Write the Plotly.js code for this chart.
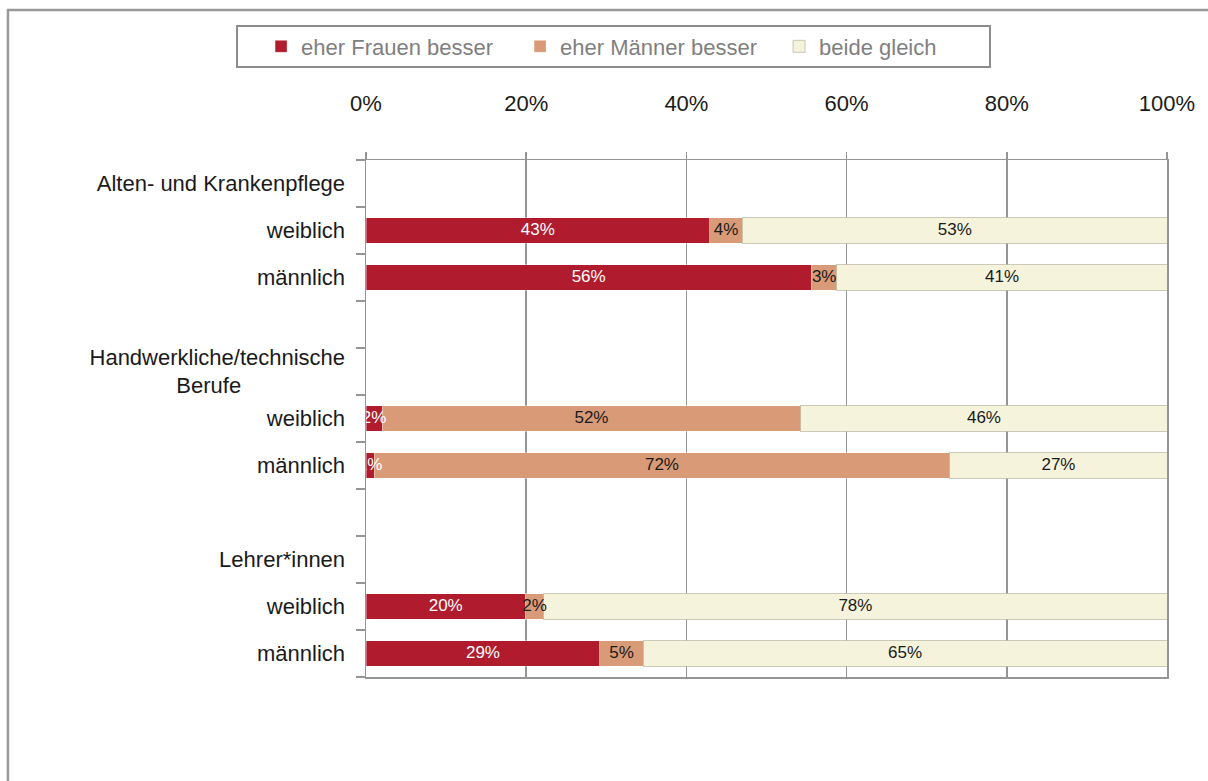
<!DOCTYPE html>
<html>
<head>
<meta charset="utf-8">
<script src="https://cdn.plot.ly/plotly-3.0.1.min.js"></script>
<style>
  html, body { margin: 0; padding: 0; background: #fff; }
  #chart { width: 1208px; height: 781px; }
</style>
</head>
<body>
<div id="chart"></div>
<script>
// rows of the chart, top to bottom (headers and spacer rows carry no bars)
var rowKeys = ['alten', 'alten_w', 'alten_m', 'gap1', 'hand', 'hand_w', 'hand_m', 'gap2', 'lehr', 'lehr_w', 'lehr_m'];
var rowLabels = [
  'Alten- und Krankenpflege', 'weiblich', 'männlich', '',
  'Handwerkliche/technische<br>Berufe' + '\u00a0'.repeat(17), 'weiblich', 'männlich', '',
  'Lehrer*innen', 'weiblich', 'männlich'
];

// rows that have bars
var barRows = ['alten_w', 'alten_m', 'hand_w', 'hand_m', 'lehr_w', 'lehr_m'];

// shares in percent
var frauenBesser = [42.9, 55.6, 2.0, 1.0, 19.9, 29.2];
var maennerBesser = [4.1, 3.2, 52.3, 71.9, 2.3, 5.4];
var beideGleich = [53.0, 41.2, 45.7, 27.1, 77.8, 65.4];

var seriesNames = ['eher Frauen besser', 'eher Männer besser', 'beide gleich'];
var seriesColors = ['#b01c2e', '#d99a78', '#f5f3dc'];
var labelColors = ['#ffffff', '#1a1a1a', '#1a1a1a'];
var xTicks = [0, 20, 40, 60, 80, 100];
var xTickLabels = ['0%', '20%', '40%', '60%', '80%', '100%'];

var font = '"Liberation Sans", Arial, sans-serif';
var series = [frauenBesser, maennerBesser, beideGleich];

var data = [];
series.forEach(function (vals, i) {
  data.push({
    type: 'bar',
    orientation: 'h',
    name: seriesNames[i],
    x: vals,
    y: barRows,
    marker: {
      color: seriesColors[i],
      line: { color: i === 2 ? 'rgba(190,188,165,0.8)' : 'rgba(255,255,255,0.35)', width: 1 }
    },
    hoverinfo: 'skip'
  });
});

// value labels drawn on top of all bars, centred in each segment
series.forEach(function (vals, i) {
  var mids = vals.map(function (v, j) {
    var start = 0;
    for (var k = 0; k < i; k++) start += series[k][j];
    return start + v / 2;
  });
  data.push({
    type: 'scatter',
    mode: 'text',
    x: mids,
    y: barRows,
    text: vals.map(function (v) { return Math.round(v) + '%'; }),
    textposition: 'middle center',
    textfont: { family: font, size: 17, color: labelColors[i] },
    showlegend: false,
    cliponaxis: false,
    hoverinfo: 'skip'
  });
});

var layout = {
  width: 1208,
  height: 781,
  margin: { l: 366, r: 41, t: 160, b: 104 },
  paper_bgcolor: '#ffffff',
  plot_bgcolor: '#ffffff',
  font: { family: font, size: 21, color: '#1a1a1a' },
  barmode: 'stack',
  bargap: 0.45,
  showlegend: true,
  legend: {
    orientation: 'h',
    x: -0.131,
    xanchor: 'left',
    y: 1.2195,
    yanchor: 'middle',
    font: { family: font, size: 22, color: '#7f7f7f' },
    entrywidth: 214,
    traceorder: 'normal',
    bgcolor: 'rgba(0,0,0,0)'
  },
  xaxis: {
    side: 'top',
    range: [0, 100],
    tickmode: 'array',
    tickvals: xTicks,
    ticktext: xTickLabels,
    ticks: 'outside',
    ticklen: 7,
    tickwidth: 1.5,
    tickcolor: '#959595',
    ticklabelstandoff: 32,
    tickfont: { family: font, size: 22, color: '#1a1a1a' },
    showgrid: true,
    gridcolor: '#959595',
    gridwidth: 1.5,
    showline: true,
    linecolor: '#959595',
    linewidth: 1.5,
    mirror: true,
    zeroline: false,
    fixedrange: true
  },
  yaxis: {
    type: 'category',
    categoryorder: 'array',
    categoryarray: rowKeys,
    tickmode: 'array',
    tickvals: rowKeys,
    ticktext: rowLabels,
    range: [rowKeys.length - 0.5, -0.5],
    tickson: 'boundaries',
    ticks: 'outside',
    ticklen: 9,
    tickwidth: 1.5,
    tickcolor: '#959595',
    ticklabelstandoff: 15,
    tickfont: { family: font, size: 22, color: '#1a1a1a' },
    showgrid: false,
    showline: true,
    linecolor: '#959595',
    linewidth: 1.5,
    mirror: true,
    fixedrange: true
  },
  shapes: [
    // outer chart frame (only top and left edges fall inside the picture)
    { type: 'rect', xref: 'paper', yref: 'paper', x0: -0.447, x1: 1.1, y0: -0.4, y1: 1.290,
      line: { color: '#999999', width: 2.5 }, fillcolor: 'rgba(0,0,0,0)', layer: 'below' },
    // legend frame
    { type: 'rect', xref: 'paper', yref: 'paper', x0: -0.161, x1: 0.779, y0: 1.1799, y1: 1.2592,
      line: { color: '#8c8c8c', width: 2 }, fillcolor: 'rgba(0,0,0,0)', layer: 'below' }
  ]
};

Plotly.newPlot('chart', data, layout, { displayModeBar: false, staticPlot: true });
</script>
</body>
</html>
